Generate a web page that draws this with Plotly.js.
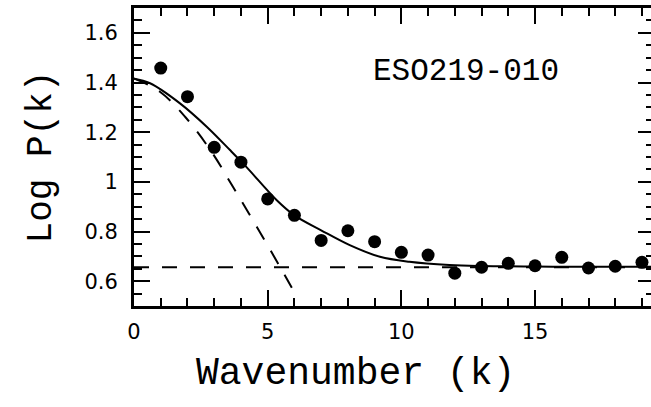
<!DOCTYPE html>
<html>
<head>
<meta charset="utf-8">
<script src="https://cdn.plot.ly/plotly-3.0.1.min.js"></script>
<style>
html, body { margin: 0; padding: 0; overflow: hidden; background: #fff; }
#chart { width: 657px; height: 407px; }
</style>
</head>
<body>
<div id="chart"></div>
<script>
// Measured power spectrum points
const wavenumber = [1, 2, 3, 4, 5, 6, 7, 8, 9, 10, 11, 12, 13, 14, 15, 16, 17, 18, 19];
const logPower = [1.458, 1.343, 1.139, 1.079, 0.931, 0.865, 0.764, 0.803, 0.759, 0.716, 0.705, 0.632, 0.656, 0.672, 0.662, 0.696, 0.653, 0.660, 0.676];

// Full fit (solid curve)
const fitK = [0, 0.6, 1.72, 2.72, 3.59, 4.2, 5.33, 6.0, 7.0, 8.07, 9.2, 10.3, 11.8, 13, 15, 17, 19.45];
const fitLogP = [1.415, 1.397, 1.316, 1.222, 1.128, 1.06, 0.927, 0.865, 0.805, 0.745, 0.698, 0.678, 0.665, 0.661, 0.659, 0.658, 0.658];

// PSF component (steep dashed curve)
const psfK = [0, 0.97, 1.91, 2.9, 3.7, 4.59, 5.46, 6.02];
const psfLogP = [1.416, 1.363, 1.262, 1.121, 0.980, 0.819, 0.658, 0.551];

// Noise level (horizontal dashed line)
const noiseK = [0, 19.45];
const noiseLogP = [0.656, 0.656];

const label = "ESO219-010";
const labelK = 12.42;
const labelLogP = 1.446;
const xTitle = "Wavenumber (k)";
const yTitle = "Log P(k)";

const data = [
  { x: noiseK, y: noiseLogP, mode: 'lines', line: { color: '#000', width: 2, dash: '15px,13px' }, hoverinfo: 'skip' },
  { x: psfK, y: psfLogP, mode: 'lines', line: { color: '#000', width: 2, dash: '15px,13px', shape: 'spline', smoothing: 1 }, hoverinfo: 'skip' },
  { x: fitK, y: fitLogP, mode: 'lines', line: { color: '#000', width: 2, shape: 'spline', smoothing: 1 } },
  { x: wavenumber, y: logPower, mode: 'markers', marker: { color: '#000', size: 13 } }
];

const axisCommon = {
  showgrid: false, zeroline: false,
  showline: true, linecolor: '#000', linewidth: 3, mirror: 'ticks',
  ticks: 'inside', ticklen: 16, tickwidth: 2, tickcolor: '#000',
  tickfont: { family: 'DejaVu Sans', size: 21, color: '#000' }
};

const layout = {
  width: 657, height: 407,
  margin: { l: 134, r: 3, t: 8, b: 101 },
  paper_bgcolor: '#fff', plot_bgcolor: '#fff',
  showlegend: false,
  xaxis: Object.assign({}, axisCommon, {
    range: [0, 19.45], tick0: 0, dtick: 5,
    ticklabelstandoff: 5,
    minor: { dtick: 1, ticks: 'inside', ticklen: 8, tickwidth: 2, tickcolor: '#000' }
  }),
  yaxis: Object.assign({}, axisCommon, {
    range: [0.5, 1.7], tick0: 0, dtick: 0.2,
    ticklabelstandoff: 9,
    minor: { dtick: 0.05, ticks: 'inside', ticklen: 8, tickwidth: 2, tickcolor: '#000' },
    title: { text: yTitle, font: { family: 'Liberation Mono', size: 36, color: '#000' }, standoff: 22 }
  }),
  annotations: [{
    x: labelK, y: labelLogP, xref: 'x', yref: 'y', text: label, showarrow: false,
    xanchor: 'center', yanchor: 'middle',
    font: { family: 'Liberation Mono', size: 31, color: '#000' }
  }, {
    x: 0.425, y: -0.225, xref: 'paper', yref: 'paper', text: xTitle, showarrow: false,
    xanchor: 'center', yanchor: 'middle',
    font: { family: 'Liberation Mono', size: 38, color: '#000' }
  }]
};

Plotly.newPlot('chart', data, layout, { displayModeBar: false, staticPlot: true });
</script>
</body>
</html>
